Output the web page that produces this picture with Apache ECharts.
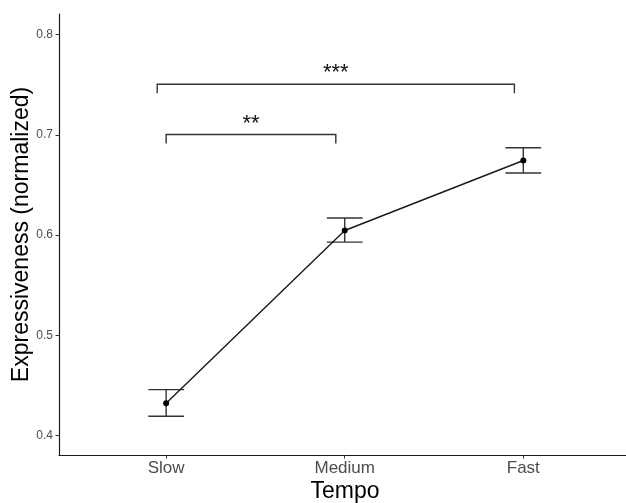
<!DOCTYPE html>
<html>
<head>
<meta charset="utf-8">
<script src="https://cdn.jsdelivr.net/npm/echarts@6/dist/echarts.min.js"></script>
<style>html,body{margin:0;padding:0;background:#fff;}#c{width:626px;height:503px;}</style>
</head>
<body>
<div id="c"></div>
<script>
const categories = ['Slow', 'Medium', 'Fast'];
const means = [0.4323, 0.6046, 0.6744];
const lower = [0.4194, 0.5930, 0.6619];
const upper = [0.4459, 0.6170, 0.6871];
const yTicks = [0.4, 0.5, 0.6, 0.7, 0.8];
// significance brackets: [from, to, y, label]
const bracketFrom = [0.95, 1.0];
const bracketTo = [2.95, 1.95];
const bracketY = [0.7505, 0.7003];
const bracketLabels = ['***', '**'];

const xPos = categories.map((c, i) => i + 1);
const FONT = '"Liberation Sans", Arial, Helvetica, sans-serif';

const chart = echarts.init(document.getElementById('c'), null, {renderer: 'canvas'});

const errData = categories.map((c, i) => [xPos[i], lower[i], upper[i]]);
const brData = bracketLabels.map((l, i) => [bracketFrom[i], bracketTo[i], bracketY[i], l]);

chart.setOption({
  animation: false,
  grid: {left: 59, right: 0, top: 14, bottom: 48, containLabel: false},
  xAxis: {
    type: 'value', min: 0.4, max: 3.575,
    splitLine: {show: false},
    axisLine: {show: true, lineStyle: {color: '#1a1a1a', width: 1.2}},
    axisTick: {show: true, length: 3.5, lineStyle: {color: '#333', width: 1}, customValues: xPos},
    axisLabel: {
      show: true, margin: 5, fontSize: 17, color: '#4d4d4d', fontFamily: FONT,
      customValues: xPos,
      formatter: v => categories[Math.round(v) - 1] || ''
    }
  },
  yAxis: {
    type: 'value', min: 0.3807, max: 0.8205,
    splitLine: {show: false},
    axisLine: {show: true, lineStyle: {color: '#1a1a1a', width: 1.2}},
    axisTick: {show: true, length: 3.5, lineStyle: {color: '#333', width: 1}, customValues: yTicks},
    axisLabel: {
      show: true, margin: 6, fontSize: 12, color: '#4d4d4d', fontFamily: FONT,
      customValues: yTicks,
      formatter: v => v.toFixed(1)
    }
  },
  graphic: [
    {type: 'text', x: 22, y: 234.5, rotation: Math.PI / 2,
     style: {text: 'Expressiveness (normalized)', fontSize: 23, fontFamily: FONT, fill: '#000',
             textAlign: 'center', textVerticalAlign: 'middle'}},
    {type: 'text', x: 345, y: 492,
     style: {text: 'Tempo', fontSize: 23, fontFamily: FONT, fill: '#000',
             textAlign: 'center', textVerticalAlign: 'middle'}}
  ],
  series: [
    {
      type: 'custom', name: 'err', z: 2,
      data: errData,
      renderItem: (params, api) => {
        const x = api.value(0);
        const lo = api.coord([x, api.value(1)]);
        const hi = api.coord([x, api.value(2)]);
        const l = api.coord([x - 0.1, api.value(1)]);
        const r = api.coord([x + 0.1, api.value(1)]);
        const st = {stroke: '#333', lineWidth: 1.4};
        return {type: 'group', children: [
          {type: 'line', shape: {x1: lo[0], y1: lo[1], x2: hi[0], y2: hi[1]}, style: st},
          {type: 'line', shape: {x1: l[0], y1: lo[1], x2: r[0], y2: lo[1]}, style: st},
          {type: 'line', shape: {x1: l[0], y1: hi[1], x2: r[0], y2: hi[1]}, style: st}
        ]};
      }
    },
    {
      type: 'line', name: 'mean', z: 3,
      data: xPos.map((x, i) => [x, means[i]]),
      symbol: 'circle', symbolSize: 6,
      lineStyle: {color: '#1a1a1a', width: 1.4},
      itemStyle: {color: '#000'}
    },
    {
      type: 'custom', name: 'brackets', z: 2,
      data: brData,
      renderItem: (params, api) => {
        const y = api.value(2);
        const a = api.coord([api.value(0), y]);
        const b = api.coord([api.value(1), y]);
        const drop = 9;
        const st = {stroke: '#333', lineWidth: 1.4, fill: 'none'};
        return {type: 'group', children: [
          {type: 'polyline', shape: {points: [[a[0], a[1] + drop], [a[0], a[1]], [b[0], b[1]], [b[0], b[1] + drop]]}, style: st},
          {type: 'text', style: {text: brData[params.dataIndex][3], x: (a[0] + b[0]) / 2, y: a[1] - 11,
            fontSize: 22, fontFamily: FONT, fill: '#111', textAlign: 'center', textVerticalAlign: 'middle'}}
        ]};
      }
    }
  ]
});
</script>
</body>
</html>
